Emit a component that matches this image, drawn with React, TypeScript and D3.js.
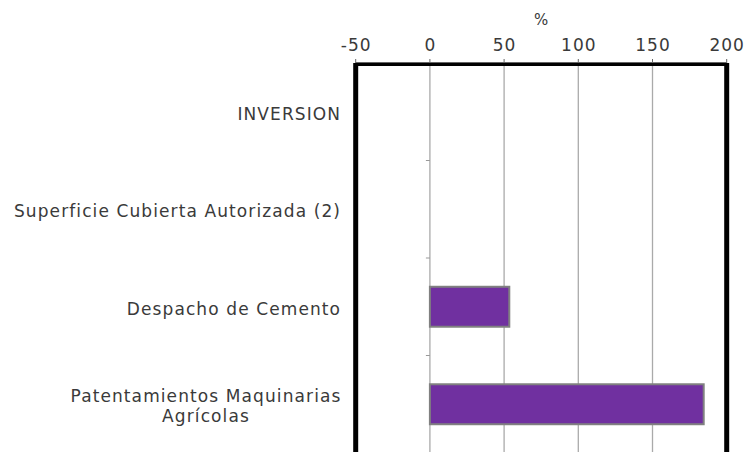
import React from "react";
import * as d3 from "d3";

const categories = [
  ["INVERSION"],
  ["Superficie Cubierta Autorizada (2)"],
  ["Despacho de Cemento"],
  ["Patentamientos Maquinarias", "Agrícolas"],
];
const values: (number | null)[] = [null, null, 53.5, 184.5];
const xTicks = [-50, 0, 50, 100, 150, 200];
const axisTitle = "%";

const W = 752;
const H = 452;
const left = 355.7;
const right = 726.7;
const top = 63;
const bottom = 453;
const font = "'DejaVu Sans', sans-serif";
const textColor = "#3a3a3a";

export default function App() {
  const x = d3.scaleLinear().domain([-50, 200]).range([left, right]);
  const y = d3
    .scaleBand<number>()
    .domain(categories.map((_, i) => i))
    .range([top, bottom])
    .paddingInner(0.59)
    .paddingOuter(0.295);
  const step = y.step();
  const bandTop = (i: number) => top + i * step;
  const ls = 1.1;
  return (
    <svg
      width={W}
      height={H}
      style={{ position: "absolute", left: 0, top: 0, background: "#fff" }}
    >
      {xTicks.slice(1, -1).map((t) => (
        <line key={t} x1={x(t)} x2={x(t)} y1={top} y2={bottom} stroke="#aaa" strokeWidth={1.3} />
      ))}
      {categories.slice(1).map((_, i) => (
        <line key={i} x1={x(0) - 4} x2={x(0)} y1={bandTop(i + 1)} y2={bandTop(i + 1)} stroke="#999" strokeWidth={1} />
      ))}
      {values.map((v, i) =>
        v == null ? null : (
          <rect
            key={i}
            x={x(Math.min(0, v))}
            y={y(i)}
            width={Math.abs(x(v) - x(0))}
            height={y.bandwidth()}
            fill="#7030A0"
            stroke="#808080"
            strokeWidth={2}
          />
        )
      )}
      <line x1={left} x2={left} y1={top} y2={bottom} stroke="#000" strokeWidth={5} />
      <line x1={right} x2={right} y1={top} y2={bottom} stroke="#000" strokeWidth={5} />
      <line x1={left - 1} x2={right + 1} y1={top + 1.5} y2={top + 1.5} stroke="#000" strokeWidth={3} />
      <line x1={left} x2={right} y1={top - 0.5} y2={top - 0.5} stroke="#666" strokeWidth={1} />
      {xTicks.map((t) => (
        <g key={t}>
          <line x1={x(t)} x2={x(t)} y1={top - 4} y2={top} stroke="#666" strokeWidth={1} />
          <text x={x(t) + 0.5} y={51} textAnchor="middle" fontFamily={font} fontSize={17} fill={textColor} letterSpacing={1}>
            {t}
          </text>
        </g>
      ))}
      <text x={(left + right) / 2} y={25} textAnchor="middle" fontFamily={font} fontSize={15} fill={textColor}>
        {axisTitle}
      </text>
      {categories.map((lines, i) => {
        const cy = (y(i) as number) + y.bandwidth() / 2 + 2.2;
        const lh = 20;
        const y0 = cy - ((lines.length - 1) * lh) / 2;
        if (lines.length === 1)
          return (
            <text key={i} x={340 + ls} y={y0} dy="0.35em" textAnchor="end" fontFamily={font} fontSize={17} fill={textColor} letterSpacing={ls}>
              {lines[0]}
            </text>
          );
        return (
          <text key={i} x={206} y={y0} textAnchor="middle" fontFamily={font} fontSize={17} fill={textColor} letterSpacing={ls}>
            {lines.map((l, j) => (
              <tspan key={j} x={206} dy={j === 0 ? "0.35em" : lh}>
                {l}
              </tspan>
            ))}
          </text>
        );
      })}
    </svg>
  );
}
